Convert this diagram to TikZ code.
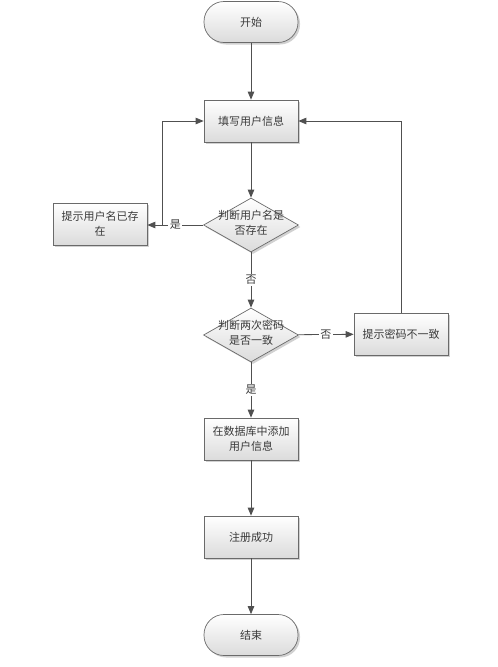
\documentclass[tikz,border=0pt]{standalone}
\usepackage{fontspec}
\newfontfamily\cjk{Noto Sans CJK SC}
\usetikzlibrary{shapes.geometric,arrows.meta,shadows}
\newcommand\dtext[1]{\makebox[0pt]{\smash{\raisebox{-1.5pt}{\begin{tabular}{@{}c@{}}#1\end{tabular}}}}}
\definecolor{linec}{HTML}{505050}
\definecolor{bordc}{HTML}{6A6A6A}
\definecolor{txtc}{HTML}{3A3A3A}
\begin{document}
\begin{tikzpicture}[x=1pt,y=-1pt,
  font=\cjk\fontsize{11}{15}\selectfont,
  every node/.style={text=txtc},
  shadowed/.style={drop shadow={shadow xshift=2pt,shadow yshift=-2pt,fill=black!30,opacity=0.6}},
  box/.style={rectangle,draw=bordc,line width=0.7pt,top color=white,bottom color=black!14,
    minimum width=94pt,minimum height=42pt,inner sep=2pt,align=center,shadowed},
  term/.style={box,rounded corners=20pt,minimum height=41pt},
  dec/.style={diamond,draw=bordc,line width=0.7pt,top color=white,bottom color=black!14,
    minimum width=95pt,minimum height=54pt,inner sep=0pt,shadowed},
  arr/.style={draw=linec,line width=0.8pt,-{Triangle[length=8pt,width=6.5pt]}},
  lbl/.style={fill=white,inner sep=1.5pt}]
\useasboundingbox (0,0) rectangle (498,667);
\node[term] (start) at (251,22) {开始};
\node[box] (fill) at (251,121) {填写用户信息};
\node[dec] (d1) at (251,225) {\dtext{判断用户名是\\否存在}};
\node[box] (exist) at (100,224) {提示用户名已存\\在};
\node[dec] (d2) at (251,335) {\dtext{判断两次密码\\是否一致}};
\node[box] (mis) at (401,334) {提示密码不一致};
\node[box] (add) at (251,439) {在数据库中添加\\用户信息};
\node[box] (ok) at (251,537) {注册成功};
\node[term] (end) at (251,635) {结束};
\coordinate (lx) at (162,0);
\draw[arr] (start) -- (fill);
\draw[arr] (fill) -- (d1);
\draw[arr] (d1.west) -- node[lbl]{是} (d1.west -| exist.east);
\draw[arr] (d1.west -| lx) |- (fill.west);
\draw[arr] (d1) -- node[lbl]{否} (d2);
\draw[arr] (d2) -- node[lbl]{否} (mis);
\draw[arr] (mis.north) |- (fill.east);
\draw[arr] (d2) -- node[lbl]{是} (add);
\draw[arr] (add) -- (ok);
\draw[arr] (ok) -- (end);
\end{tikzpicture}
\end{document}
